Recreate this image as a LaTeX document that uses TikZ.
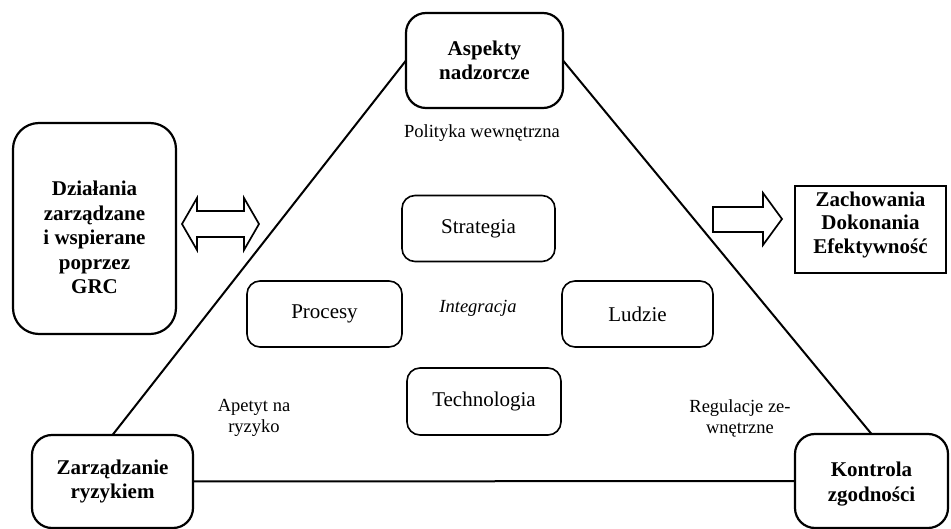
\documentclass[tikz,border=0pt]{standalone}
\usepackage{fontspec}
\setmainfont{Liberation Serif}
\begin{document}
\begin{tikzpicture}[x=1pt,y=-1pt,
  bigbox/.style={draw,line width=2.2pt,rounded corners=20pt,inner sep=0pt,outer sep=0pt,align=center,
    font=\bfseries\fontsize{21}{24.5}\selectfont},
  smallbox/.style={draw,line width=1.6pt,rounded corners=13pt,inner sep=0pt,outer sep=0pt,align=center,
    minimum width=153pt,minimum height=66pt,font=\fontsize{21}{24}\selectfont},
  lbl/.style={align=center,inner sep=0pt,font=\fontsize{18.5}{21}\selectfont},
  boldtext/.style={align=center,inner sep=0pt,font=\bfseries\fontsize{21}{24.5}\selectfont},
  tri/.style={line width=2pt},
  blockarrow/.style={draw,line width=1.7pt,line join=miter,fill=white}]
\useasboundingbox (0,0) rectangle (951,529);
% main boxes
\node[bigbox,minimum width=157pt,minimum height=95pt] (asp) at (484.5,60.5) {Aspekty\\nadzorcze};
\node[bigbox,minimum width=163pt,minimum height=211pt,rounded corners=26pt,
  label={[boldtext,yshift=-9pt]center:{Działania\\zarządzane\\i wspierane\\poprzez\\GRC}}] (dzi) at (94.5,228.5) {};
\node[draw,line width=2.2pt,inner sep=0pt,outer sep=0pt,minimum width=151pt,minimum height=87pt,
  label={[boldtext,font=\bfseries\fontsize{21}{23.5}\selectfont,yshift=5pt]center:{Zachowania\\Dokonania\\Efektywność}}] (zach) at (870.5,229.5) {};
\node[bigbox,minimum width=161pt,minimum height=93pt] (zar) at (112.5,481.5) {Zarządzanie\\ryzykiem};
\node[bigbox,minimum width=153pt,minimum height=94pt,
  label={[boldtext,yshift=-3pt]center:{Kontrola\\zgodności}}] (kon) at (871.5,481) {};
% triangle
\draw[tri] (asp.west) -- (zar.north);
\draw[tri] (asp.east) -- (kon.north);
\draw[tri] (zar.east) -- (kon.west);
% inner boxes
\node[smallbox] (str) at (478.5,228.5) {Strategia};
\node[smallbox,minimum width=155pt] (pro) at (324.5,314) {Procesy};
\node[smallbox,minimum width=151pt] (lud) at (637.5,314) {Ludzie};
\node[smallbox,minimum width=154pt,minimum height=67pt] (tec) at (484,401.5) {Technologia};
% labels
\node[lbl] (pol) at (482,133) {Polityka wewnętrzna};
\node[lbl,font=\itshape\fontsize{18.5}{21}\selectfont] (int) at (478,308) {Integracja};
\node[lbl] (ape) at (254,418) {Apetyt na\\ryzyko};
\node[lbl] (reg) at (740,418) {Regulacje ze-\\wnętrzne};
% block arrows
\draw[blockarrow] (182,224) -- (197,198) -- (197,211) -- (244,211) -- (244,198) -- (259,224)
  -- (244,250) -- (244,237) -- (197,237) -- (197,250) -- cycle;
\draw[blockarrow] (713,207) -- (763,207) -- (763,193) -- (782,219) -- (763,245) -- (763,232) -- (713,232) -- cycle;
\end{tikzpicture}
\end{document}
